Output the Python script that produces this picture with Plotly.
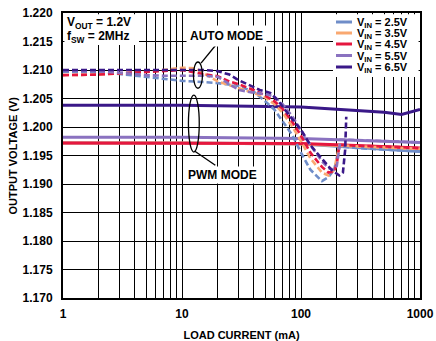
import math
import plotly.graph_objects as go

# ---------------- data ----------------
series_names = ["V<sub>IN</sub> = 2.5V", "V<sub>IN</sub> = 3.5V", "V<sub>IN</sub> = 4.5V",
                "V<sub>IN</sub> = 5.5V", "V<sub>IN</sub> = 6.5V"]
colors = ["#6F8DC8", "#F9A870", "#E5173F", "#8A72C0", "#3A1888"]

# PWM mode (solid)
pwm_load = [1, 10, 100, 200, 500, 700, 1000]
pwm_25 = [1.1972, 1.1972, 1.1970, 1.1966, 1.1961, 1.1959, 1.1957]
pwm_35 = [1.1972, 1.1972, 1.1970, 1.1967, 1.1964, 1.1963, 1.1962]
pwm_45 = [1.1972, 1.1972, 1.1971, 1.1969, 1.1966, 1.1965, 1.1963]
pwm_55 = [1.1982, 1.1982, 1.1980, 1.1978, 1.1976, 1.1975, 1.1973]
pwm_65 = [1.2038, 1.2038, 1.2035, 1.2031, 1.2026, 1.2022, 1.2031]

# AUTO mode (dashed)
auto_load_25 = [1, 2, 3, 5, 7, 10, 15, 20, 30, 40, 50, 60, 70, 85, 100, 120, 150, 170, 190, 200, 210, 300, 500, 1000]
auto_25 = [1.2097, 1.2096, 1.2093, 1.2088, 1.2084, 1.2081, 1.2079, 1.2077, 1.2072, 1.2062, 1.2045, 1.2030, 1.2010,
           1.1985, 1.1955, 1.1925, 1.1905, 1.1912, 1.1925, 1.1945, 1.1966, 1.1963, 1.1961, 1.1957]
auto_load_35 = [1, 2, 3, 5, 7, 10, 13, 15, 20, 30, 40, 50, 60, 70, 85, 100, 120, 150, 170, 190, 200, 210, 300, 500, 1000]
auto_35 = [1.2091, 1.2092, 1.2094, 1.2097, 1.2100, 1.2104, 1.2103, 1.2095, 1.2080, 1.2068, 1.2060, 1.2052, 1.2040,
           1.2025, 1.2000, 1.1975, 1.1945, 1.1920, 1.1915, 1.1925, 1.1945, 1.1968, 1.1966, 1.1964, 1.1962]
auto_load_45 = [1, 2, 3, 5, 7, 10, 15, 20, 25, 30, 40, 50, 60, 70, 85, 100, 120, 150, 170, 190, 200, 210, 300, 500, 1000]
auto_45 = [1.2091, 1.2092, 1.2094, 1.2097, 1.2099, 1.2100, 1.2093, 1.2089, 1.2080, 1.2075, 1.2065, 1.2055, 1.2045,
           1.2032, 1.2008, 1.1985, 1.1955, 1.1930, 1.1920, 1.1922, 1.1935, 1.1969, 1.1967, 1.1966, 1.1963]
auto_load_55 = [1, 2, 3, 5, 7, 10, 15, 20, 25, 30, 40, 50, 60, 70, 85, 100, 120, 150, 170, 190, 200, 215, 300, 500, 1000]
auto_55 = [1.2099, 1.2098, 1.2095, 1.2091, 1.2090, 1.2090, 1.2090, 1.2088, 1.2075, 1.2065, 1.2060, 1.2058, 1.2053,
           1.2040, 1.2018, 1.1995, 1.1968, 1.1940, 1.1928, 1.1925, 1.1932, 1.1978, 1.1977, 1.1976, 1.1973]
auto_load_65 = [1, 2, 3, 5, 7, 10, 15, 20, 25, 30, 35, 45, 55, 65, 80, 100, 120, 150, 180, 210, 225, 235, 240]
auto_65 = [1.2100, 1.2100, 1.2101, 1.2101, 1.2101, 1.2100, 1.2100, 1.2098, 1.2092, 1.2082, 1.2075, 1.2065, 1.2060,
           1.2045, 1.2020, 1.1995, 1.1968, 1.1945, 1.1925, 1.1915, 1.1920, 1.1960, 1.2018]

y_ticks = [1.170, 1.175, 1.180, 1.185, 1.190, 1.195, 1.200, 1.205, 1.210, 1.215, 1.220]
x_ticks = [1, 10, 100, 1000]

FONT = "Liberation Sans, Arial, sans-serif"
W, H = 436, 341
ML, MR, MT, MB = 63, 16, 13, 43


def px(xp):
    return (xp - ML) / (W - ML - MR)


def py(yp):
    return (H - MB - yp) / (H - MT - MB)


fig = go.Figure()

auto_sets = [(auto_load_25, auto_25), (auto_load_35, auto_35), (auto_load_45, auto_45),
             (auto_load_55, auto_55), (auto_load_65, auto_65)]
pwm_sets = [pwm_25, pwm_35, pwm_45, pwm_55, pwm_65]

for name, col, ys in zip(series_names, colors, pwm_sets):
    fig.add_trace(go.Scatter(x=pwm_load, y=ys, mode="lines", name=name,
                             line=dict(color=col, width=3), showlegend=False))
for name, col, (xs, ys) in zip(series_names, colors, auto_sets):
    fig.add_trace(go.Scatter(x=xs, y=ys, mode="lines", name=name,
                             line=dict(color=col, width=2.6, dash="6px,3px"), showlegend=False))

tickfont = dict(family=FONT, size=12, color="black", weight="bold")
titlefont = dict(family=FONT, size=11, color="black", weight="bold")

fig.update_layout(
    width=W, height=H,
    margin=dict(l=ML, r=MR, t=MT, b=MB, autoexpand=False),
    paper_bgcolor="white", plot_bgcolor="white",
    font=dict(family=FONT, size=12, color="black", weight="bold"),
    showlegend=False,
    xaxis=dict(type="log", range=[0, 3], tickvals=x_ticks, ticktext=[str(v) for v in x_ticks],
               automargin=False,
               showgrid=True, gridcolor="black", gridwidth=1.1, ticks="",
               minor=dict(dtick="D1", showgrid=True, gridcolor="black", gridwidth=1.1, ticks=""),
               showline=True, linecolor="black", linewidth=2, mirror=True,
               ticklabelstandoff=4,
               title=dict(text="LOAD CURRENT (mA)", font=titlefont),
               tickfont=tickfont, zeroline=False),
    yaxis=dict(range=[1.170, 1.220], tickvals=y_ticks, tickformat=".3f",
               automargin=False,
               showgrid=True, gridcolor="black", gridwidth=1.1, ticks="",
               showline=True, linecolor="black", linewidth=2, mirror=True,
               ticklabelstandoff=6,
               tickfont=tickfont, zeroline=False),
)

# y axis title
fig.add_annotation(xref="paper", yref="paper", x=px(12), y=0.5, xanchor="center", yanchor="middle",
                   text="OUTPUT VOLTAGE (V)", textangle=-90, showarrow=False, font=titlefont)

# top-left condition box
fig.add_shape(type="rect", xref="paper", yref="paper", x0=0.004, x1=px(139), y0=py(45), y1=0.996,
              fillcolor="white", line=dict(width=0), layer="above")
fig.add_annotation(xref="paper", yref="paper", x=px(66), y=py(22.5), xanchor="left", yanchor="middle",
                   text="V<sub>OUT</sub> = 1.2V", showarrow=False, font=tickfont, borderpad=0)
fig.add_annotation(xref="paper", yref="paper", x=px(66), y=py(37), xanchor="left", yanchor="middle",
                   text="f<sub>SW</sub> = 2MHz", showarrow=False, font=tickfont, borderpad=0)

# mode labels
fig.add_annotation(x=1.372, y=1.2159, xref="x", yref="y", text="AUTO MODE", showarrow=False,
                   bgcolor="white", borderpad=3, font=tickfont)
fig.add_annotation(x=1.338, y=1.1916, xref="x", yref="y", text="PWM MODE", showarrow=False,
                   bgcolor="white", borderpad=1, font=tickfont)

# ellipses and leader lines (log axis shapes take data values)
L = lambda v: 10 ** v
fig.add_shape(type="circle", xref="x", yref="y", x0=L(1.096), x1=L(1.172), y0=1.2068, y1=1.2114,
              line=dict(color="black", width=1.3))
fig.add_shape(type="line", xref="x", yref="y", x0=L(1.160), y0=1.2112, x1=L(1.293), y1=1.2146,
              line=dict(color="black", width=1.3))
fig.add_shape(type="circle", xref="x", yref="y", x0=L(1.054), x1=L(1.145), y0=1.1956, y1=1.2056,
              line=dict(color="black", width=1.3))
fig.add_shape(type="line", xref="x", yref="y", x0=L(1.105), y0=1.1958, x1=L(1.280), y1=1.1933,
              line=dict(color="black", width=1.3))

# compact legend
fig.add_shape(type="rect", xref="paper", yref="paper", x0=px(333), x1=0.996, y0=py(77), y1=0.996,
              fillcolor="white", line=dict(width=0), layer="above")
row_y = [22, 33, 44, 55.5, 67]
for name, col, ry in zip(series_names, colors, row_y):
    fig.add_shape(type="line", xref="paper", yref="paper", x0=px(336), x1=px(352), y0=py(ry), y1=py(ry),
                  line=dict(color=col, width=3), layer="above")
    fig.add_annotation(xref="paper", yref="paper", x=px(356), y=py(ry + 1), xanchor="left", yanchor="middle",
                       text=name, showarrow=False, font=dict(family=FONT, size=11, color="black", weight="bold"),
                       borderpad=0)

fig.write_html("out.html")
